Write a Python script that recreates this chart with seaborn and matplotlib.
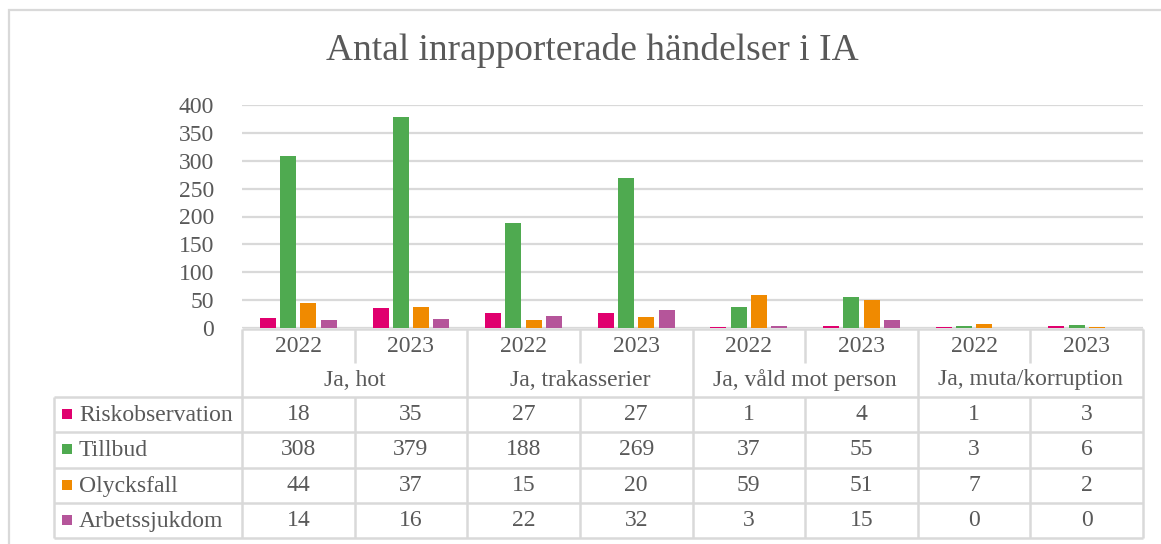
import numpy as np
import pandas as pd
import seaborn as sns
import matplotlib
matplotlib.use("Agg")
import matplotlib.pyplot as plt
from matplotlib.transforms import blended_transform_factory
from matplotlib.patches import Rectangle

# ---------------- data ----------------
categories = ["Ja, hot", "Ja, trakasserier", "Ja, våld mot person", "Ja, muta/korruption"]
years = ["2022", "2023"]
series = ["Riskobservation", "Tillbud", "Olycksfall", "Arbetssjukdom"]
riskobservation = [18, 35, 27, 27, 1, 4, 1, 3]
tillbud = [308, 379, 188, 269, 37, 55, 3, 6]
olycksfall = [44, 37, 15, 20, 59, 51, 7, 2]
arbetssjukdom = [14, 16, 22, 32, 3, 15, 0, 0]
colors = ["#E0006E", "#4FAA50", "#F08A00", "#B5559A"]
title = "Antal inrapporterade händelser i IA"
yticks = [0, 50, 100, 150, 200, 250, 300, 350, 400]

values = [riskobservation, tillbud, olycksfall, arbetssjukdom]
cols = [f"{c}|{y}" for c in categories for y in years]
rows = []
for s, vals in zip(series, values):
    for col, v in zip(cols, vals):
        rows.append({"col": col, "series": s, "value": v})
df = pd.DataFrame(rows)

# ---------------- style ----------------
sns.set_theme(style="white")
plt.rcParams["font.family"] = ["Liberation Serif", "DejaVu Serif"]
TXT = "#595959"
GRID = "#D9D9D9"
FS = 17

W, H = 1161, 544
fig = plt.figure(figsize=(W / 100, H / 100), dpi=100)
fig.patch.set_facecolor("white")

ax_left, ax_right, ax_top, ax_bot = 242, 1143, 105, 328
ax = fig.add_axes([ax_left / W, 1 - ax_bot / H, (ax_right - ax_left) / W, (ax_bot - ax_top) / H])

sns.barplot(data=df, x="col", y="value", hue="series", order=cols, hue_order=series,
            palette=colors, width=0.72, gap=0.21, saturation=1, linewidth=0,
            legend=False, ax=ax, errorbar=None)

ax.set_xlim(-0.5, len(cols) - 0.5)
ax.set_ylim(0, 400)
ax.set_yticks(yticks)
ax.set_yticklabels([str(t) for t in yticks], fontsize=FS, color=TXT)
ax.tick_params(axis="y", length=0, pad=20)
ax.set_xticks([])
ax.set_xlabel("")
ax.set_ylabel("")
for sp in ax.spines.values():
    sp.set_visible(False)
ax.yaxis.grid(True, color=GRID, linewidth=1.6)
ax.set_axisbelow(True)
ax.set_facecolor("none")

# ---------------- data table ----------------
axh = ax_bot - ax_top
def yf(py):
    return (ax_bot - py) / axh

tr = blended_transform_factory(ax.transData, ax.transAxes)
colw = (ax_right - ax_left) / len(cols)
leg_left = -0.5 - (ax_left - 54) / colw
lw = 1.8
n = len(cols)

def hline(x0, x1, py):
    ax.plot([x0, x1], [yf(py), yf(py)], color=GRID, lw=lw, transform=tr, clip_on=False,
            solid_capstyle="butt")

def vline(x, py0, py1):
    ax.plot([x, x], [yf(py0), yf(py1)], color=GRID, lw=lw, transform=tr, clip_on=False,
            solid_capstyle="butt")

row_edges = [397, 432, 468, 503, 538]
hline(-0.5, n - 0.5, 329)
for py in row_edges:
    hline(leg_left, n - 0.5, py)
for i in range(n + 1):
    x = i - 0.5
    if i % 2 == 0:
        vline(x, 329, 538)
    else:
        vline(x, 329, 363)
        vline(x, 397, 538)
vline(leg_left, 397, 538)

# year labels
for i, col in enumerate(cols):
    ax.text(i, yf(346), col.split("|")[1], ha="center", va="center", fontsize=FS,
            color=TXT, transform=tr)
# category labels
for j, c in enumerate(categories):
    ax.text(2 * j + 0.5, yf(380), c, ha="center", va="center", fontsize=FS,
            color=TXT, transform=tr)
# values + legend
for r, (s, vals, colr) in enumerate(zip(series, values, colors)):
    yc = (row_edges[r] + row_edges[r + 1]) / 2
    for i, v in enumerate(vals):
        ax.text(i, yf(yc), str(v), ha="center", va="center", fontsize=FS,
                color=TXT, transform=tr)
    fig.add_artist(Rectangle((62 / W, 1 - (yc + 4) / H), 10 / W, 10 / H,
                             transform=fig.transFigure, facecolor=colr, edgecolor="none"))
    fig.text(79 / W, 1 - (yc + 1) / H, s, ha="left", va="center", fontsize=FS, color=TXT)

# chart border
fig.add_artist(Rectangle((8.5 / W, -0.1), 1.2, 1 - 10.5 / H + 0.1, transform=fig.transFigure,
                         facecolor="none", edgecolor=GRID, linewidth=1.6))

# title
fig.text(592 / W, 1 - 50 / H, title, ha="center", va="center", fontsize=27, color=TXT)

fig.savefig("out.png", dpi=100, facecolor="white")
